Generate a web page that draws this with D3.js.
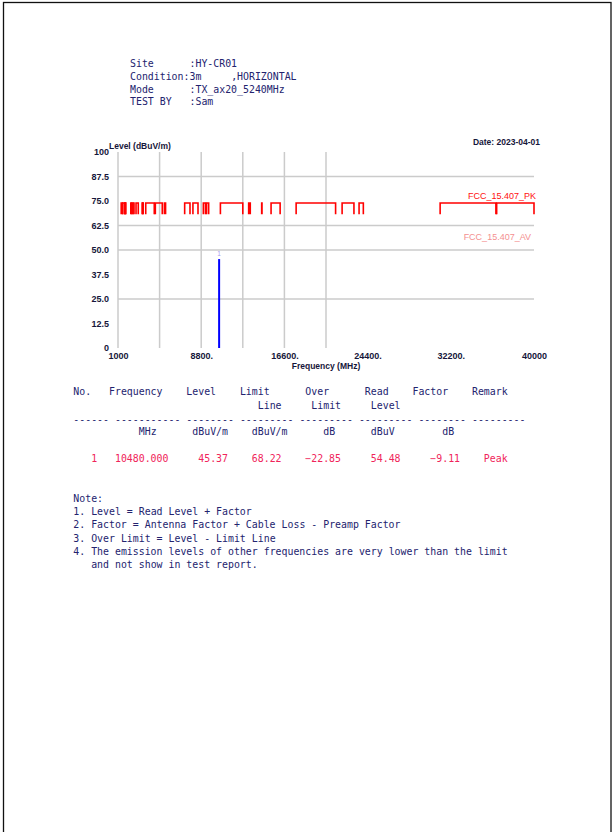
<!DOCTYPE html>
<html>
<head>
<meta charset="utf-8">
<script src="https://cdn.jsdelivr.net/npm/d3@7"></script>
<style>
  html, body { margin: 0; padding: 0; background: #fff; }
  svg { display: block; }
</style>
</head>
<body>
<svg id="page" width="614" height="832"></svg>
<script>
// ---- report header ----
const headerLabels = ["Site", "Condition", "Mode", "TEST BY"];
const headerValues = ["HY-CR01", "3m     ,HORIZONTAL", "TX_ax20_5240MHz", "Sam"];
const reportDate = "2023-04-01";

// ---- axes ----
const freqDomain = [1000, 40000];
const levelDomain = [0, 100];
const yTicks = [0, 12.5, 25, 37.5, 50, 62.5, 75, 87.5, 100];
const yTickLabels = ["0", "12.5", "25.0", "37.5", "50.0", "62.5", "75.0", "87.5", "100"];
const xTicks = [1000, 8800, 16600, 24400, 32200, 40000];
const xTickLabels = ["1000", "8800.", "16600.", "24400.", "32200.", "40000"];
const xGridLines = [1000, 4900, 8800, 12700, 16600, 20500];
const yGridLines = [87.5, 62.5, 50, 25];

// ---- FCC 15.407 peak limit: raised level inside restricted bands ----
const limitBandStart = [1300, 1435, 1645.5, 1660, 1718.8, 2200, 2310, 2483.5, 2690, 3260, 3332, 3345.8,
  3600, 4500, 5350, 7250, 8025, 9000, 9300, 10600, 13250, 14470, 15350, 17700, 22010, 23600, 31200, 36500];
const limitBandEnd = [1427, 1626.5, 1646.5, 1710, 1722.2, 2300, 2390, 2500, 2900, 3267, 3339, 3358,
  4400, 5150, 5460, 7750, 8500, 9200, 9500, 12700, 13400, 14500, 16200, 21400, 23120, 24000, 36430, 40000];
const limitRestricted = 74;
const limitBase = 68.22;
const limitNames = ["FCC_15.407_PK", "FCC_15.407_AV"];

// ---- measured emissions ----
const peakNo = [1];
const peakFreq = [10480.000];
const peakLevel = [45.37];
const peakLimit = [68.22];
const peakRead = [54.48];
const peakFactor = [-9.11];
const peakRemark = ["Peak"];

// ---- result table text ----
const tableHead1 = ["No.", "Frequency", "Level", "Limit", "Over", "Read", "Factor", "Remark"];
const tableHead2 = ["Line", "Limit", "Level"];
const tableDashLengths = [6, 11, 8, 9, 9, 9, 8, 9];
const tableUnits = ["MHz", "dBuV/m", "dBuV/m", "dB", "dBuV", "dB"];
const notes = [
  "Note:",
  "1. Level = Read Level + Factor",
  "2. Factor = Antenna Factor + Cable Loss - Preamp Factor",
  "3. Over Limit = Level - Limit Line",
  "4. The emission levels of other frequencies are very lower than the limit",
  "   and not show in test report."
];

// ================= drawing =================
const svg = d3.select("#page");
const mono = "'DejaVu Sans Mono', 'Liberation Mono', monospace";
const sans = "'Liberation Sans', Arial, sans-serif";
const ink = "#23236e";
const cw = 5.95;          // monospace character cell width
const monoSize = 9.9;

// draws a fixed-pitch line: every run of non-blank characters is placed on its own column
function monoLine(g, str, x0, base, color) {
  const re = /\S+/g;
  let m;
  while ((m = re.exec(str)) !== null) {
    g.append("text").attr("x", x0 + m.index * cw).attr("y", base)
      .attr("fill", color || ink).text(m[0]);
  }
}

// page frame
svg.append("rect")
  .attr("x", 3.5).attr("y", 2.5).attr("width", 607.5).attr("height", 845)
  .attr("fill", "none").attr("stroke", "#111").attr("stroke-width", 1.3);

// header block
const head = svg.append("g").attr("font-family", mono).attr("font-size", monoSize);
const headX = 130, headBase = 67, headStep = 12.8;
headerLabels.forEach((lab, i) => {
  const pad = lab.length >= 9 ? "" : " ".repeat(10 - lab.length);
  monoLine(head, lab + pad + ":" + headerValues[i], headX, headBase + i * headStep);
});

// chart scales
const x = d3.scaleLinear().domain(freqDomain).range([118, 534]);
const y = d3.scaleLinear().domain(levelDomain).range([348, 152]);

// grid
const grid = svg.append("g").attr("stroke", "#cbcbcb").attr("stroke-width", 1.5);
grid.selectAll("line.v").data(xGridLines).join("line").attr("class", "v")
  .attr("x1", d => x(d)).attr("x2", d => x(d))
  .attr("y1", y(100)).attr("y2", y(0));
grid.selectAll("line.h").data(yGridLines).join("line").attr("class", "h")
  .attr("x1", x(freqDomain[0])).attr("x2", x(freqDomain[1]))
  .attr("y1", d => y(d)).attr("y2", d => y(d));

// limit line
const limitLine = d3.line().x(d => x(d[0])).y(d => y(d[1]));
svg.append("g").selectAll("path").data(limitBandStart.map((s, i) => [s, limitBandEnd[i]])).join("path")
  .attr("d", ([a, b]) => limitLine([[a, limitBase], [a, limitRestricted], [b, limitRestricted], [b, limitBase]]))
  .attr("fill", "none").attr("stroke", "#ff0000").attr("stroke-width", 1.6);

svg.append("text").attr("x", 536).attr("y", 199).attr("text-anchor", "end")
  .attr("font-family", sans).attr("font-size", 9).attr("fill", "#ff1010").text(limitNames[0]);
svg.append("text").attr("x", 531).attr("y", 240).attr("text-anchor", "end")
  .attr("font-family", sans).attr("font-size", 9).attr("fill", "#f49090").text(limitNames[1]);

// emission peaks
svg.append("g").selectAll("line").data(peakFreq).join("line")
  .attr("x1", d => x(d)).attr("x2", d => x(d))
  .attr("y1", y(0)).attr("y2", (d, i) => y(peakLevel[i]))
  .attr("stroke", "#0000ff").attr("stroke-width", 2);
svg.append("g").selectAll("text").data(peakFreq).join("text")
  .attr("x", d => x(d)).attr("y", (d, i) => y(peakLevel[i]) - 3)
  .attr("text-anchor", "middle").attr("font-family", sans).attr("font-size", 6.5)
  .attr("fill", "#a898f0").text((d, i) => peakNo[i]);

// axes
const axisFont = g => g.attr("font-family", sans).attr("font-size", 9)
  .attr("font-weight", "bold").call(a => a.select(".domain").remove())
  .call(a => a.selectAll("text").attr("fill", "#16163a"));

svg.append("g").attr("transform", `translate(${x(freqDomain[0])},0)`)
  .call(d3.axisLeft(y).tickValues(yTicks).tickFormat((d, i) => yTickLabels[i]).tickSize(0).tickPadding(9))
  .call(axisFont);
svg.append("g").attr("transform", `translate(0,${y(0)})`)
  .call(d3.axisBottom(x).tickValues(xTicks).tickFormat((d, i) => xTickLabels[i]).tickSize(0).tickPadding(5))
  .call(axisFont);

svg.append("text").attr("x", 109).attr("y", 149)
  .attr("font-family", sans).attr("font-size", 8.5).attr("font-weight", "bold").attr("fill", "#16163a")
  .text("Level (dBuV/m)");
svg.append("text").attr("x", 326).attr("y", 369).attr("text-anchor", "middle")
  .attr("font-family", sans).attr("font-size", 8.5).attr("font-weight", "bold").attr("fill", "#16163a")
  .text("Frequency (MHz)");
svg.append("text").attr("x", 540).attr("y", 145).attr("text-anchor", "end")
  .attr("font-family", sans).attr("font-size", 8.5).attr("font-weight", "bold").attr("fill", "#16163a")
  .text("Date: " + reportDate);

// result table (monospace columns)
const tx0 = 73.3;
const table = svg.append("g").attr("font-family", mono).attr("font-size", monoSize);
const cell = (txt, col, base, color) => table.append("text")
  .attr("x", tx0 + col * cw).attr("y", base).attr("fill", color || ink).text(txt);

[0, 6, 19, 28, 39, 49, 57, 67].forEach((c, i) => cell(tableHead1[i], c, 395));
[31, 40, 50].forEach((c, i) => cell(tableHead2[i], c, 408.5));
[0, 7, 19, 28, 38, 48, 58, 67].forEach((c, i) => cell("-".repeat(tableDashLengths[i]), c, 422.5));
[11, 20, 30, 42, 50, 62].forEach((c, i) => cell(tableUnits[i], c, 435));

const f3 = d3.format(".3f"), f2 = d3.format(".2f");
peakFreq.forEach((f, i) => {
  const row = [String(peakNo[i]), f3(f), f2(peakLevel[i]), f2(peakLimit[i]),
    f2(peakLevel[i] - peakLimit[i]), f2(peakRead[i]), f2(peakFactor[i]), peakRemark[i]];
  [3, 7, 21, 30, 39, 50, 60, 69].forEach((c, k) => cell(row[k], c, 461.5 + i * 13, "#f0245a"));
});

// notes
const noteG = svg.append("g").attr("font-family", mono).attr("font-size", monoSize);
notes.forEach((n, i) => monoLine(noteG, n, tx0, 501.8 + i * 13.3));
</script>
</body>
</html>
